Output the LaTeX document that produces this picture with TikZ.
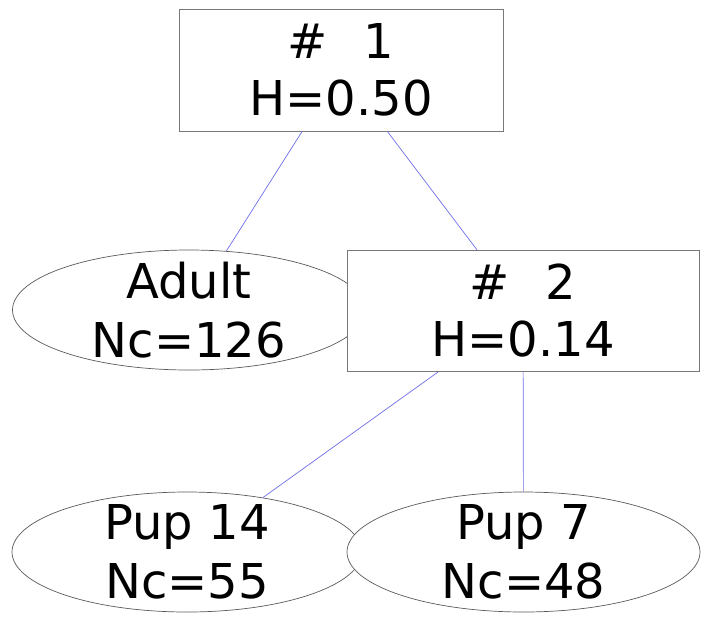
\documentclass[tikz,border=0pt]{standalone}
\usepackage{fontspec}
\setmainfont{DejaVu Sans}
\usetikzlibrary{shapes.geometric}

\definecolor{boxgray}{RGB}{120,120,120}
\definecolor{leafgray}{RGB}{90,90,90}
\definecolor{linkblue}{RGB}{110,110,235}

\begin{document}
\begin{tikzpicture}[x=1pt, y=-1pt,
    split/.style={draw=boxgray, fill=white, rectangle, inner sep=0pt, align=center,
        line width=0.7pt, font=\fontsize{48}{57}\selectfont},
    leaf/.style={draw=leafgray, fill=white, ellipse, inner xsep=0pt, inner ysep=-6pt,
        align=center, line width=0.7pt, minimum width=353pt, minimum height=120pt,
        font=\fontsize{48}{59}\selectfont},
    link/.style={draw=linkblue, line width=0.7pt}]
\useasboundingbox (0,0) rectangle (708,621);
\node[split, minimum width=324pt, minimum height=122pt] (n1) at (341,70) {\#\hspace{0.75em}1\\H=0.50};
\node[leaf] (adult) at (189,310) {Adult\\Nc=126};
\node[split, minimum width=352pt, minimum height=121pt] (n2) at (523,311) {\#\hspace{0.75em}2\\H=0.14};
\node[leaf, minimum width=350pt] (pup14) at (187,552) {Pup 14\\Nc=55};
\node[leaf] (pup7) at (523.5,552) {Pup 7\\Nc=48};
\draw[link] (n1) -- (adult);
\draw[link] (n1) -- (n2);
\draw[link] (n2) -- (pup14);
\draw[link] (n2) -- (pup7);
\end{tikzpicture}
\end{document}
